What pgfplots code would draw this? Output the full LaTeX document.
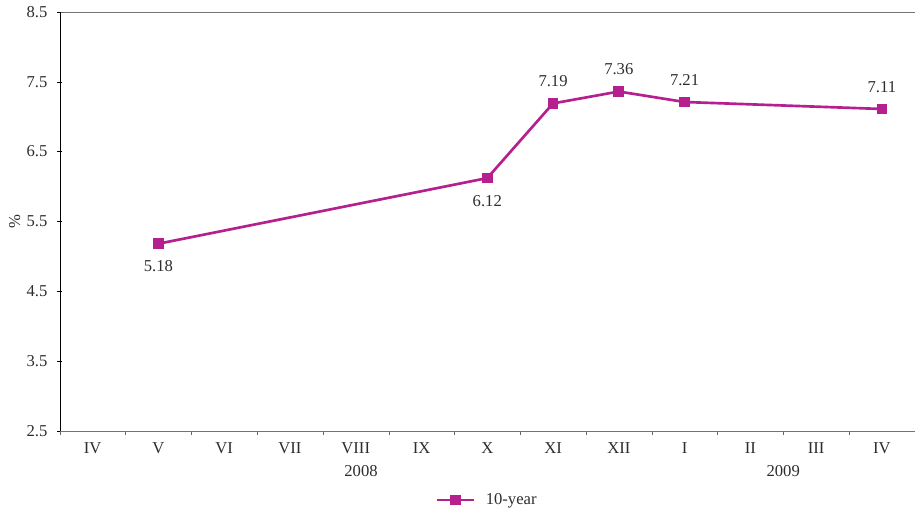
\documentclass[border=0pt]{standalone}
\usepackage{pgfplots}
\pgfplotsset{compat=1.18}
\usepackage{fontspec}
\setmainfont{Liberation Serif}
\definecolor{serie}{RGB}{181,32,142}
\definecolor{txt}{RGB}{45,45,45}
\begin{document}
\fontsize{12.5}{14}\selectfont
\begin{tikzpicture}[x=1pt,y=1pt]
\begin{axis}[
  scale only axis,
  width=643pt, height=315pt,
  xmin=-0.5, xmax=12.5,
  ymin=2.5, ymax=8.5,
  ytick={2.5,3.5,...,8.5},
  yticklabel style={/pgf/number format/fixed, /pgf/number format/fixed zerofill, /pgf/number format/precision=1},
  /pgf/number format/assume math mode=true,
  xtick={0,...,12},
  xticklabels={IV,V,VI,VII,VIII,IX,X,XI,XII,I,II,III,IV},
  minor xtick={-0.5,0.5,...,12.5},
  major x tick style={draw=none},
  minor tick length=3pt,
  major tick length=4pt,
  xtick pos=bottom,
  ytick pos=left,
  tick align=outside,
  axis x line=box,
  axis y line=left,
  x axis line style={gray!90!black, -},
  y axis line style={black, -},
  y tick style={black},
  minor x tick style={gray!80!black},
  xticklabel style={anchor=center, yshift=-9pt, text=txt},
  yticklabel style={text=txt, xshift=-3pt},
  tick label style={font=\fontsize{12.5}{14}\selectfont},
  clip=false,
  legend style={draw=none, fill=none, at={(0.5,-0.165)}, anchor=center, font=\fontsize{12.5}{14}\selectfont, text=txt},
  legend image code/.code={\draw[#1, line width=2pt] (0pt,0pt) -- (28pt,0pt); \draw[#1, mark repeat=1, only marks] plot coordinates {(14pt,0pt)};},
  legend cell align=left,
]
\addplot[serie, line width=2pt, mark=square*, mark size=3pt, mark options={solid}] coordinates {
  (1,5.18) (6,6.12) (7,7.19) (8,7.36) (9,7.21) (12,7.11)
};
\addlegendentry{\hspace{6pt}10-year}
\addplot[draw=none, forget plot, nodes near coords, point meta=explicit symbolic,
  nodes near coords style={anchor=center, yshift=-17pt, text=txt, font=\fontsize{12.5}{14}\selectfont}] coordinates {
  (1,5.18) [5.18] (6,6.12) [6.12]
};
\addplot[draw=none, forget plot, nodes near coords, point meta=explicit symbolic,
  nodes near coords style={anchor=center, yshift=16.5pt, text=txt, font=\fontsize{12.5}{14}\selectfont}] coordinates {
  (7,7.19) [7.19] (8,7.36) [7.36] (9,7.21) [7.21] (12,7.11) [7.11]
};
\node[text=txt, yshift=-30.5pt, font=\fontsize{12.5}{14}\selectfont] at (axis cs:4.08,2.5) {2008};
\node[text=txt, yshift=-30.5pt, font=\fontsize{12.5}{14}\selectfont] at (axis cs:10.5,2.5) {2009};
\node[text=txt, xshift=-34pt, rotate=90, font=\fontsize{12.5}{14}\selectfont] at (rel axis cs:0,0.5) {\%};
\path ([xshift=-45pt,yshift=-63pt]rel axis cs:0,0) rectangle ([yshift=9pt]rel axis cs:1,1);
\end{axis}
\end{tikzpicture}
\end{document}
